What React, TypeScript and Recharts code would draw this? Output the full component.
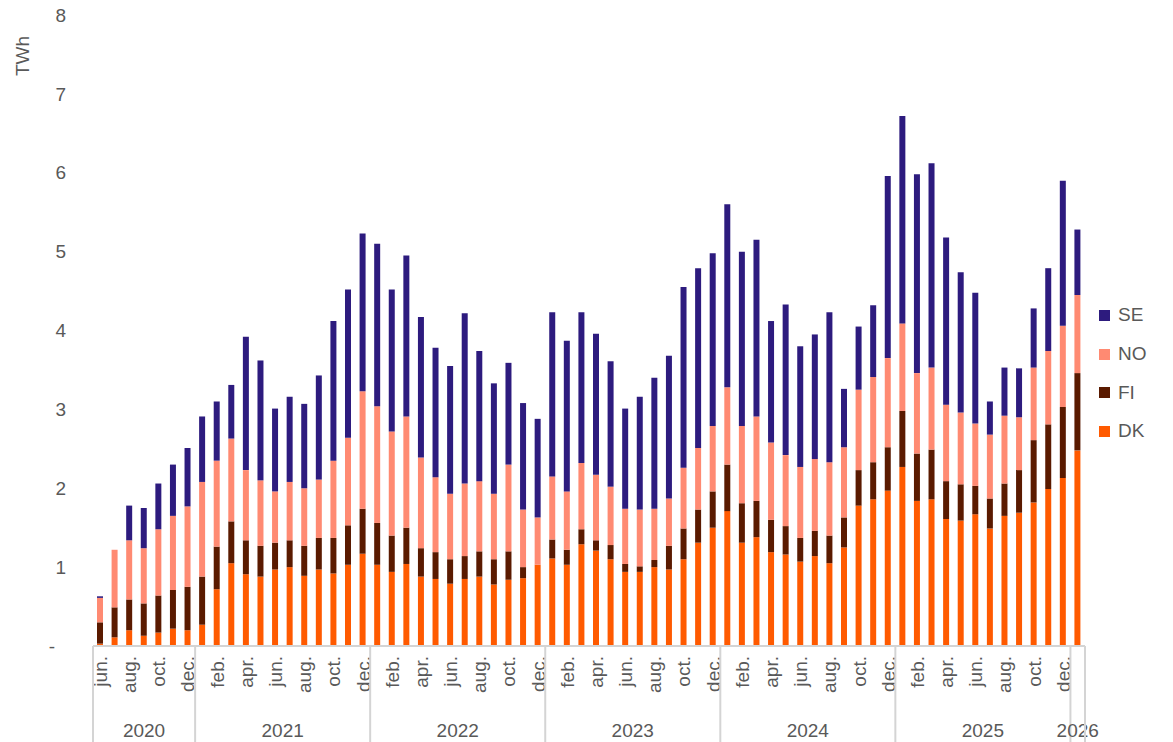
import { BarChart, Bar, XAxis, YAxis } from "recharts";

// Monthly storage volumes, TWh, jun. 2020 – jan. 2026
const MONTH_NAMES = ["jan.", "feb.", "mar.", "apr.", "may.", "jun.", "jul.", "aug.", "sep.", "oct.", "nov.", "dec."];
const START_YEAR = 2020;
const START_MONTH = 5; // jun.
const N_MONTHS = 68;

const categories = Array.from({ length: N_MONTHS }, (_, i) => {
  const m = (START_MONTH + i) % 12;
  const y = START_YEAR + Math.floor((START_MONTH + i) / 12);
  return { month: MONTH_NAMES[m], year: y };
});

const dk = [
  0.03, 0.11, 0.2, 0.13, 0.17, 0.22, 0.2,
  0.27, 0.72, 1.05, 0.91, 0.88, 0.97, 1.0, 0.89, 0.97, 0.92, 1.03, 1.17,
  1.03, 0.94, 1.04, 0.88, 0.85, 0.79, 0.85, 0.88, 0.78, 0.84, 0.86, 1.03,
  1.11, 1.03, 1.29, 1.21, 1.1, 0.94, 0.94, 1.0, 0.97, 1.1, 1.31, 1.5,
  1.71, 1.31, 1.38, 1.19, 1.16, 1.07, 1.14, 1.05, 1.25, 1.78, 1.86, 1.97,
  2.27, 1.84, 1.86, 1.61, 1.59, 1.67, 1.49, 1.65, 1.69, 1.82, 1.99, 2.13,
  2.48,
];
const fi = [
  0.27, 0.38, 0.39, 0.41, 0.47, 0.49, 0.55,
  0.61, 0.54, 0.53, 0.43, 0.39, 0.34, 0.34, 0.38, 0.4, 0.45, 0.5, 0.57,
  0.53, 0.46, 0.46, 0.36, 0.34, 0.31, 0.29, 0.32, 0.32, 0.36, 0.14, 0.0,
  0.24, 0.19, 0.19, 0.13, 0.18, 0.1, 0.07, 0.09, 0.3, 0.39, 0.42, 0.46,
  0.59, 0.5, 0.46, 0.41, 0.36, 0.3, 0.32, 0.35, 0.38, 0.45, 0.47, 0.55,
  0.71, 0.6, 0.63, 0.48, 0.46, 0.36, 0.38, 0.41, 0.54, 0.79, 0.82, 0.9,
  0.98,
];
const no = [
  0.31, 0.73, 0.75, 0.7, 0.84, 0.94, 1.02,
  1.2, 1.09, 1.05, 0.89, 0.83, 0.65, 0.74, 0.73, 0.74, 0.98, 1.11, 1.49,
  1.48, 1.32, 1.41, 1.15, 0.95, 0.83, 0.92, 0.89, 0.83, 1.1, 0.73, 0.6,
  0.8, 0.74, 0.84, 0.83, 0.74, 0.7, 0.72, 0.65, 0.6, 0.77, 0.78, 0.83,
  0.98, 0.98, 1.07, 0.98, 0.9, 0.9, 0.91, 0.93, 0.89, 1.02, 1.08, 1.13,
  1.11, 1.02, 1.04, 0.97, 0.91, 0.79, 0.81, 0.86, 0.67, 0.92, 0.93, 1.03,
  0.99,
];
const se = [
  0.02, 0.0, 0.44, 0.51, 0.58, 0.65, 0.74,
  0.83, 0.75, 0.68, 1.69, 1.52, 1.05, 1.08, 1.07, 1.32, 1.77, 1.88, 2.0,
  2.06, 1.8, 2.04, 1.78, 1.64, 1.62, 2.16, 1.65, 1.4, 1.29, 1.35, 1.25,
  2.08, 1.91, 1.91, 1.79, 1.59, 1.27, 1.43, 1.66, 1.81, 2.29, 2.28, 2.19,
  2.32, 2.21, 2.24, 1.54, 1.91, 1.53, 1.58, 1.9, 0.74, 0.8, 0.91, 2.31,
  2.63, 2.52, 2.59, 2.12, 1.78, 1.66, 0.42, 0.61, 0.62, 0.75, 1.05, 1.84,
  0.83,
];

const yTicks = [0, 1, 2, 3, 4, 5, 6, 7, 8];

const SERIES = [
  { key: "DK", label: "DK", color: "#FF5A00", values: dk },
  { key: "FI", label: "FI", color: "#5A1A00", values: fi },
  { key: "NO", label: "NO", color: "#FF8A72", values: no },
  { key: "SE", label: "SE", color: "#2D1B7E", values: se },
];

const data = categories.map((c, i) => {
  const row: Record<string, string | number> = { key: `${c.month}${c.year}`, month: c.month, year: c.year };
  SERIES.forEach((s) => (row[s.key] = s.values[i]));
  return row;
});

const W = 1173;
const H = 742;
const Y_AXIS_W = 93;
const RIGHT = 88;
const X_AXIS_H = 96;
const TEXT = "#595959";
const FONT = "'Liberation Sans', Arial, sans-serif";
const LINE = "#d4d4d4";

const yearCount = (year: number) => categories.filter((c) => c.year === year).length;

function MonthTick(props: any) {
  const { x, y, payload } = props;
  const i: number = payload.index ?? props.index;
  const cat = categories[i];
  if (!cat) return null;
  const half = payload.offset ? payload.offset : (W - Y_AXIS_W - RIGHT) / N_MONTHS / 2;
  const axisY = y;
  const firstOfYear = i === 0 || cat.month === "jan.";
  const last = i === N_MONTHS - 1;
  return (
    <g>
      {i % 2 === 0 && (
        <text
          x={x}
          y={axisY + 10}
          dy="0.35em"
          transform={`rotate(-90, ${x}, ${axisY + 10})`}
          textAnchor="end"
          fill={TEXT}
          fontSize={19}
          fontFamily={FONT}
        >
          {cat.month}
        </text>
      )}
      {firstOfYear && (
        <>
          <line x1={x - half} x2={x - half} y1={axisY} y2={H} stroke={LINE} strokeWidth={2} />
          <text
            x={x - half + yearCount(cat.year) * half}
            y={730}
            dy="0.35em"
            textAnchor="middle"
            fill={TEXT}
            fontSize={19}
            fontFamily={FONT}
          >
            {cat.year}
          </text>
        </>
      )}
      {last && <line x1={x + half} x2={x + half} y1={axisY} y2={H} stroke={LINE} strokeWidth={2} />}
    </g>
  );
}

function ValueTick(props: any) {
  const { y, payload } = props;
  const zero = payload.value === 0;
  return (
    <text
      x={zero ? 55 : 66}
      y={y}
      dy="0.35em"
      textAnchor="end"
      fill={TEXT}
      fontSize={19}
      fontFamily={FONT}
    >
      {zero ? "-" : payload.value}
    </text>
  );
}

export default function App() {
  return (
    <div style={{ position: "absolute", left: 0, top: 0, width: W, height: H, background: "#fff" }}>
      <BarChart
        width={W}
        height={H}
        data={data}
        margin={{ top: 15, right: RIGHT, bottom: 0, left: 0 }}
        barSize={6}
      >
        <XAxis
          dataKey="key"
          interval={0}
          height={X_AXIS_H}
          tickSize={0}
          tickMargin={0}
          tickLine={false}
          axisLine={{ stroke: LINE, strokeWidth: 2 }}
          tick={(p: any) => <MonthTick {...p} />}
        />
        <YAxis
          width={Y_AXIS_W}
          domain={[0, 8]}
          ticks={yTicks}
          axisLine={false}
          tickLine={false}
          tick={(p: any) => <ValueTick {...p} />}
          label={{
            content: () => (
              <text
                x={22}
                y={56}
                dy="0.35em"
                transform="rotate(-90, 22, 56)"
                textAnchor="middle"
                fill={TEXT}
                fontSize={19}
                fontFamily={FONT}
              >
                TWh
              </text>
            ),
          }}
        />
        {SERIES.map((s) => (
          <Bar key={s.key} dataKey={s.key} stackId="a" fill={s.color} isAnimationActive={false} />
        ))}
      </BarChart>
      <div style={{ position: "absolute", left: 1099, top: 296, fontFamily: FONT, fontSize: 19, color: TEXT }}>
        {[...SERIES].reverse().map((s) => (
          <div key={s.key} style={{ display: "flex", alignItems: "center", height: 38.7 }}>
            <span style={{ display: "inline-block", width: 11, height: 11, background: s.color, marginRight: 8 }} />
            <span>{s.label}</span>
          </div>
        ))}
      </div>
    </div>
  );
}
